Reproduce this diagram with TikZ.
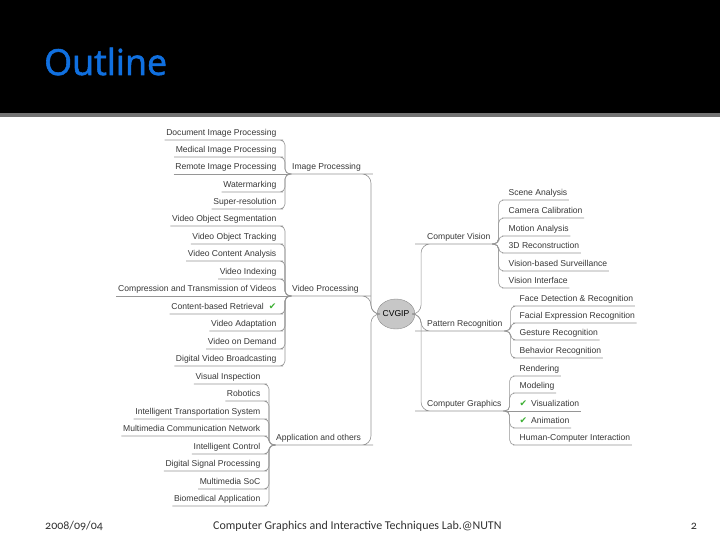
\documentclass[tikz,border=0pt]{standalone}
\usepackage{fontspec}
\setmainfont{Liberation Sans}
\newfontfamily\titlefont[FakeBold=1.5]{Open Sans}
\newfontfamily\footfont[Numbers=OldStyle]{Carlito}
\newfontfamily\symfont{DejaVu Sans}
\usetikzlibrary{positioning,calc,shapes}
\definecolor{titleblue}{RGB}{16,112,224}
\definecolor{linkgray}{RGB}{150,150,150}
\definecolor{okgreen}{RGB}{60,175,50}
\newcommand{\okmark}{\textcolor{okgreen}{\symfont\fontsize{9}{10}\selectfont ✔}}

\begin{document}
\begin{tikzpicture}[
                    x=1bp, y=-1bp,
                    leaf/.style={font=\fontsize{8.6}{10}\selectfont, text=black!78, inner sep=1.5bp, text height=6.5bp, text depth=2.5bp},
                    lleaf/.style={leaf, anchor=south east},
                    rleaf/.style={leaf, anchor=south west},
                    topic/.style={leaf, anchor=south west, inner xsep=3bp},
                    hub/.style={ellipse, draw=black!45, fill=black!22, minimum width=34bp, minimum height=30bp, inner sep=0pt, font=\fontsize{8.6}{10}\selectfont},
                    link/.style={draw=linkgray, line width=0.6bp, rounded corners=5bp},
                    branch/.style={draw=linkgray, line width=0.6bp, rounded corners=9bp}
                ]
                    \useasboundingbox (0,0) rectangle (720,540);
                    \fill[white] (0,0) rectangle (720,540);

                    % Title bar
                    \fill[black] (0,0) rectangle (720,113);
                    \fill[black!55] (0,113) rectangle (720,117);
                    \node[anchor=base west, inner sep=0pt, text=titleblue, font=\titlefont\fontsize{36}{40}\selectfont] (title) at (44,75) {Outline};

                    % Centre
                    \node[hub] (hub) at (396,314) {CVGIP};

                    % Topics
                    \node[topic] (ip) at (289,174) {Image Processing};
                    \node[topic] (vp) at (289,296) {Video Processing};
                    \node[topic] (app) at (273,445) {Application and others};
                    \node[topic] (cv) at (424,244) {Computer Vision};
                    \node[topic] (pr) at (424,331) {Pattern Recognition};
                    \node[topic] (cg) at (424,411) {Computer Graphics};

                    % Image Processing leaves
                    \node[lleaf] (ip1) at (278,140) {Document Image Processing};
                    \node[lleaf] (ip2) at (278,157) {Medical Image Processing};
                    \node[lleaf] (ip3) at (278,174) {Remote Image Processing};
                    \node[lleaf] (ip4) at (278,192) {Watermarking};
                    \node[lleaf] (ip5) at (278,209) {Super-resolution};

                    % Video Processing leaves
                    \node[lleaf] (vp1) at (278,226) {Video Object Segmentation};
                    \node[lleaf] (vp2) at (278,244) {Video Object Tracking};
                    \node[lleaf] (vp3) at (278,261) {Video Content Analysis};
                    \node[lleaf] (vp4) at (278,279) {Video Indexing};
                    \node[lleaf] (vp5) at (278,296) {Compression and Transmission of Videos};
                    \node[lleaf] (vp6) at (278,314) {Content-based Retrieval\hspace{5bp}\okmark};
                    \node[lleaf] (vp7) at (278,331) {Video Adaptation};
                    \node[lleaf] (vp8) at (278,349) {Video on Demand};
                    \node[lleaf] (vp9) at (278,366) {Digital Video Broadcasting};

                    % Application leaves
                    \node[lleaf] (ap1) at (262,384) {Visual Inspection};
                    \node[lleaf] (ap2) at (262,401) {Robotics};
                    \node[lleaf] (ap3) at (262,419) {Intelligent Transportation System};
                    \node[lleaf] (ap4) at (262,436) {Multimedia Communication Network};
                    \node[lleaf] (ap5) at (262,454) {Intelligent Control};
                    \node[lleaf] (ap6) at (262,471) {Digital Signal Processing};
                    \node[lleaf] (ap7) at (262,489) {Multimedia SoC};
                    \node[lleaf] (ap8) at (262,506) {Biomedical Application};

                    % Computer Vision leaves
                    \node[rleaf] (cv1) at (507,200) {Scene Analysis};
                    \node[rleaf] (cv2) at (507,218) {Camera Calibration};
                    \node[rleaf] (cv3) at (507,236) {Motion Analysis};
                    \node[rleaf] (cv4) at (507,253) {3D Reconstruction};
                    \node[rleaf] (cv5) at (507,271) {Vision-based Surveillance};
                    \node[rleaf] (cv6) at (507,288) {Vision Interface};

                    % Pattern Recognition leaves
                    \node[rleaf] (pr1) at (518,306) {Face Detection \& Recognition};
                    \node[rleaf] (pr2) at (518,323) {Facial Expression Recognition};
                    \node[rleaf] (pr3) at (518,340) {Gesture Recognition};
                    \node[rleaf] (pr4) at (518,358) {Behavior Recognition};

                    % Computer Graphics leaves
                    \node[rleaf] (cg1) at (518,376) {Rendering};
                    \node[rleaf] (cg2) at (518,393) {Modeling};
                    \node[rleaf] (cg3) at (518,411) {\okmark\hspace{4bp}Visualization};
                    \node[rleaf] (cg4) at (518,428) {\okmark\hspace{4bp}Animation};
                    \node[rleaf] (cg5) at (518,445) {Human-Computer Interaction};

                    % Topics to centre
                    \foreach \t in {ip,vp,app}
                        \draw[branch] (\t.south west) -- (\t.south east) -| ($(hub.west)+(-6,0)$) -- (hub.west);
                    \foreach \t in {cv,pr,cg}
                        \draw[branch] (\t.south east) -- (\t.south west) -| ($(hub.east)+(6,0)$) -- (hub.east);

                    % Leaves to topics
                    \foreach \l in {ip1,ip2,ip4,ip5}
                        \draw[link] (\l.south west) -- (\l.south east) -| ($(ip.south west)+(-4,0)$) -- (ip.south west);
                    \draw[link] (ip3.south west) -- (ip.south west);
                    \foreach \l in {vp1,vp2,vp3,vp4,vp6,vp7,vp8,vp9}
                        \draw[link] (\l.south west) -- (\l.south east) -| ($(vp.south west)+(-4,0)$) -- (vp.south west);
                    \draw[link] (vp5.south west) -- (vp.south west);
                    \foreach \l in {ap1,ap2,ap3,ap4,ap5,ap6,ap7,ap8}
                        \draw[link] (\l.south west) -- (\l.south east) -| ($(app.south west)+(-4,0)$) -- (app.south west);
                    \foreach \l in {cv1,cv2,cv3,cv4,cv5,cv6}
                        \draw[link] (\l.south east) -- (\l.south west) -| ($(cv.south east)+(5,0)$) -- (cv.south east);
                    \foreach \l in {pr1,pr2,pr3,pr4}
                        \draw[link] (\l.south east) -- (\l.south west) -| ($(pr.south east)+(5,0)$) -- (pr.south east);
                    \foreach \l in {cg1,cg2,cg4,cg5}
                        \draw[link] (\l.south east) -- (\l.south west) -| ($(cg.south east)+(5,0)$) -- (cg.south east);
                    \draw[link] (cg3.south east) -- (cg.south east);

                    % Footer
                    \node[anchor=base west, inner sep=0pt, text=black!80, font=\footfont\fontsize{12}{14}\selectfont] (date) at (45,529) {2008/09/04};
                    \node[anchor=base west, inner sep=0pt, text=black!80, font=\footfont\fontsize{12}{14}\selectfont] (lab) at (213,529) {Computer Graphics and Interactive Techniques Lab.@NUTN};
                    \node[anchor=base east, inner sep=0pt, text=black!80, font=\footfont\fontsize{12}{14}\selectfont] (page) at (697,529) {2};
                \end{tikzpicture}
\end{document}
